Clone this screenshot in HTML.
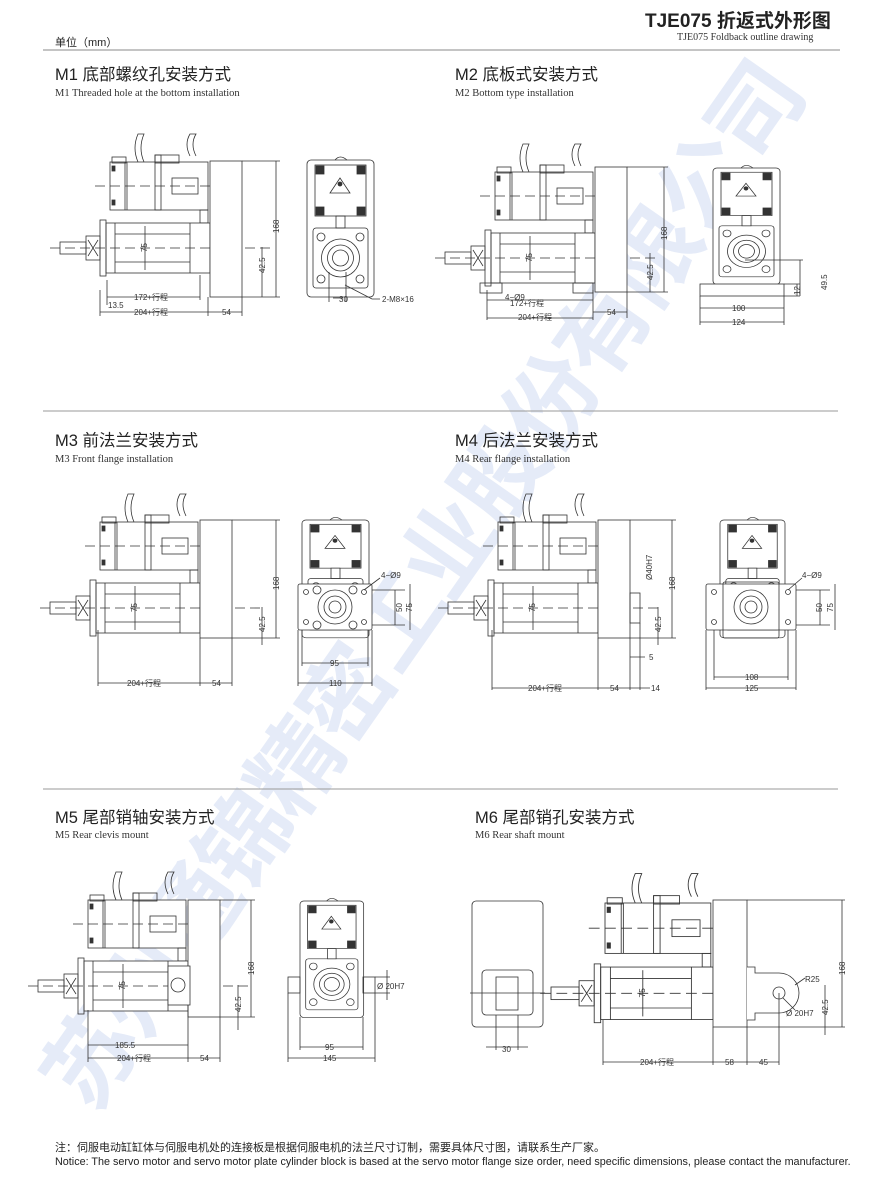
<!DOCTYPE html>
<html><head><meta charset="utf-8"><style>
body{margin:0;background:#fff}
svg{display:block}
.t{font-family:"Liberation Sans","Noto Sans CJK SC",sans-serif;fill:#222}
.s{font-family:"Liberation Serif","Noto Serif CJK SC",serif;fill:#333}
.d{font-family:"Liberation Sans","Noto Sans CJK SC",sans-serif;font-size:8px;fill:#333}
</style></head><body>
<svg width="886" height="1183" viewBox="0 0 886 1183" xmlns="http://www.w3.org/2000/svg">
<defs>
<g id="sv" fill="none" stroke="#333" stroke-width="0.8">
 <path d="M-72 0 Q-78 -14 -72 -28 L-66 -28 Q-72 -14 -66 0" />
 <path d="M-20 -6 Q-26 -18 -20 -28 L-14 -28 Q-20 -18 -14 -6" />
 <rect x="-100" y="0" width="98" height="48" fill="#fff"/>
 <rect x="-98" y="-5" width="14" height="6"/>
 <line x1="-85" y1="0" x2="-85" y2="48"/><line x1="-83" y1="0" x2="-83" y2="48"/>
 <rect x="-55" y="-7" width="6" height="55"/><rect x="-55" y="-7" width="24" height="8"/>
 <rect x="-38" y="16" width="26" height="16"/>
 <rect x="-98" y="4" width="3" height="5" fill="#333"/><rect x="-98" y="38" width="3" height="5" fill="#333"/>
 <rect x="-10" y="48" width="8" height="13"/>
 <line x1="-115" y1="24" x2="20" y2="24" stroke-dasharray="10 5"/>
 <rect x="-104" y="61" width="104" height="50" fill="#fff"/>
 <rect x="-110" y="58" width="6" height="56"/>
 <line x1="-95" y1="61" x2="-95" y2="111"/>
 <line x1="-95" y1="72" x2="-20" y2="72"/><line x1="-95" y1="100" x2="-20" y2="100"/>
 <line x1="-20" y1="61" x2="-20" y2="111"/>
 <rect x="-124" y="74" width="14" height="24"/>
 <path d="M-122 78 L-112 94 M-112 78 L-122 94"/>
 <rect x="-150" y="80" width="26" height="12"/>
 <line x1="-160" y1="86" x2="60" y2="86" stroke-dasharray="10 5"/>
 <line x1="-65" y1="64" x2="-65" y2="108"/>
 <text x="-63" y="90" class="d" stroke="none" transform="rotate(-90 -63 90)">75</text>
</g>
<g id="fv" fill="none" stroke="#333" stroke-width="0.8">
 <rect x="0" y="0" width="67" height="137" rx="4" fill="#fff"/>
 <rect x="8" y="5" width="51" height="51"/>
 <path d="M28 0 Q33 -6 40 0"/>
 <rect x="9" y="6" width="8" height="8" fill="#333"/><rect x="50" y="6" width="8" height="8" fill="#333"/>
 <rect x="9" y="47" width="8" height="8" fill="#333"/><rect x="50" y="47" width="8" height="8" fill="#333"/>
 <path d="M33 18 L43 33 L23 33 Z"/><circle cx="33" cy="24" r="2" fill="#333"/>
 <rect x="29" y="56" width="9" height="12"/>
 <rect x="6" y="68" width="55" height="60" rx="3"/>
 <circle cx="14" cy="77" r="4"/><circle cx="53" cy="77" r="4"/><circle cx="14" cy="119" r="4"/><circle cx="53" cy="119" r="4"/>
 <circle cx="33.5" cy="98" r="19"/><circle cx="33.5" cy="98" r="13"/><circle cx="33.5" cy="98" r="8"/>
</g>
</defs>

<!-- watermark -->
<text x="0" y="0" transform="translate(92 1115) rotate(-55)" font-family="'Noto Sans CJK SC',sans-serif" font-weight="bold" font-size="92" fill="#e5ebf8" textLength="1250" lengthAdjust="spacing">苏州通锦精密工业股份有限公司</text>

<!-- header -->
<text x="645" y="27" class="t" font-size="19" font-weight="bold">TJE075 折返式外形图</text>
<text x="677" y="40" class="s" font-size="10">TJE075  Foldback outline drawing</text>
<line x1="43" y1="50" x2="840" y2="50" stroke="#888" stroke-width="1"/>
<text x="55" y="46" class="t" font-size="11">单位（mm）</text>

<line x1="43" y1="411" x2="838" y2="411" stroke="#999"/>
<line x1="43" y1="789" x2="838" y2="789" stroke="#999"/>

<!-- titles -->
<text x="55" y="80" class="t" font-size="16.5">M1 底部螺纹孔安装方式</text>
<text x="55" y="96" class="s" font-size="10.5">M1 Threaded hole at the bottom installation</text>
<text x="455" y="80" class="t" font-size="16.5">M2 底板式安装方式</text>
<text x="455" y="96" class="s" font-size="10.5">M2 Bottom type installation</text>
<text x="55" y="446" class="t" font-size="16.5">M3 前法兰安装方式</text>
<text x="55" y="462" class="s" font-size="10.5">M3 Front flange installation</text>
<text x="455" y="446" class="t" font-size="16.5">M4 后法兰安装方式</text>
<text x="455" y="462" class="s" font-size="10.5">M4 Rear flange installation</text>
<text x="55" y="823" class="t" font-size="16.5">M5 尾部销轴安装方式</text>
<text x="55" y="838" class="s" font-size="10.5">M5 Rear clevis mount</text>
<text x="475" y="823" class="t" font-size="16.5">M6 尾部销孔安装方式</text>
<text x="475" y="838" class="s" font-size="10.5">M6 Rear shaft mount</text>

<g fill="none" stroke="#333" stroke-width="0.8">
<!-- M1 -->
<use href="#sv" x="210" y="162"/>
<rect x="210" y="161" width="32" height="136" fill="#fff"/>
<path d="M242 161 H280 M242 297 H280 M276 161 V297 M262 247 V297 M100 290 V316 M208 297 V316 M242 297 V316 M107 280 V305 M200 275 V300"/>
<path d="M107 297 H200 M100 312 H208 M208 312 H242"/>
<use href="#fv" x="307" y="160"/>
<path d="M329 272 V302 M346 272 V302 M333 298 H343 M345 285 L372 299 H380"/>
<!-- M2 -->
<use href="#sv" x="595" y="172"/>
<rect x="595" y="167" width="32" height="125" fill="#fff"/>
<rect x="480" y="283" width="22" height="10"/><rect x="573" y="283" width="20" height="10"/>
<path d="M627 167 H668 M627 292 H668 M664 167 V292 M650 253 V292 M487 290 V320 M593 290 V320 M627 292 V318 M487 300 H593 M487 318 H593 M593 312 H627"/>
<use href="#fv" x="713" y="168" transform="translate(713 168) scale(1 0.85) translate(-713 -168)"/>
<rect x="700" y="284" width="84" height="12" fill="#fff"/>
<path d="M700 296 V325 M784 296 V325 M700 308 H784 M700 322 H784 M784 284 H800 M784 296 H800 M797 284 V296 M745 260 H803 M800 260 V296"/>
<!-- M3 -->
<use href="#sv" x="200" y="522"/>
<rect x="200" y="520" width="32" height="118" fill="#fff"/>
<path d="M232 520 H280 M232 638 H280 M276 520 V638 M262 607 V645 M98 630 V686 M200 638 V686 M232 638 V686 M98 683 H200 M200 683 H232"/>
<use href="#fv" x="302" y="520" transform="translate(302 520) scale(1 0.86) translate(-302 -520)"/>
<rect x="298" y="584" width="74" height="46" rx="2" fill="#fff"/>
<circle cx="306" cy="592" r="2.5"/><circle cx="364" cy="592" r="2.5"/><circle cx="306" cy="622" r="2.5"/><circle cx="364" cy="622" r="2.5"/>
<circle cx="335" cy="607" r="17"/><circle cx="335" cy="607" r="11"/><circle cx="335" cy="607" r="6"/>
<circle cx="317" cy="590" r="4"/><circle cx="353" cy="590" r="4"/><circle cx="317" cy="625" r="4"/><circle cx="353" cy="625" r="4"/>
<path d="M302 630 V666 M368 630 V666 M298 630 V686 M372 630 V686 M302 663 H368 M298 683 H372 M372 590 H405 M372 625 H405 M395 590 V625 M410 584 V630 M364 590 L380 578"/>
<!-- M4 -->
<use href="#sv" x="598" y="522"/>
<rect x="598" y="520" width="32" height="118" fill="#fff"/>
<rect x="630" y="593" width="10" height="30"/>
<path d="M630 520 H676 M630 638 H676 M672 520 V638 M658 607 V645 M492 630 V690 M598 638 V690 M630 638 V690 M640 623 V690 M492 688 H598 M598 688 H630 M630 688 H650 M630 657 H645"/>
<use href="#fv" x="720" y="520" transform="translate(720 520) scale(0.97 0.86) translate(-720 -520)"/>
<rect x="706" y="584" width="90" height="46" rx="2" fill="#fff"/>
<circle cx="714" cy="592" r="2.5"/><circle cx="788" cy="592" r="2.5"/><circle cx="714" cy="622" r="2.5"/><circle cx="788" cy="622" r="2.5"/>
<rect x="723" y="582" width="56" height="56" rx="2"/>
<circle cx="751" cy="607" r="17"/><circle cx="751" cy="607" r="11"/><circle cx="751" cy="607" r="6"/>
<path d="M714 630 V680 M788 630 V680 M706 630 V690 M796 630 V690 M714 677 H788 M706 688 H796 M796 590 H830 M796 625 H830 M820 590 V625 M835 584 V630 M788 590 L802 578"/>
<!-- M5 -->
<use href="#sv" x="188" y="900"/>
<rect x="188" y="900" width="32" height="117" fill="#fff"/>
<rect x="168" y="966" width="22" height="39" fill="#fff"/><circle cx="178" cy="985" r="7"/>
<path d="M220 900 H255 M220 1017 H255 M251 900 V1017 M238 985 V1030 M88 1010 V1062 M188 1005 V1062 M220 1017 V1062 M88 1045 H188 M88 1058 H188 M188 1058 H220"/>
<use href="#fv" x="300" y="901" transform="translate(300 901) scale(0.95 0.85) translate(-300 -901)"/>
<rect x="288" y="977" width="12" height="16"/><rect x="363" y="977" width="12" height="16"/>
<path d="M300 1017 V1050 M363 1017 V1050 M288 993 V1062 M375 993 V1062 M300 1047 H363 M288 1058 H375 M375 977 H390 M375 993 H390 M387 970 V1000"/>
<!-- M6 -->
<use href="#sv" x="713" y="903" transform="translate(713 903) scale(1.08 1.05) translate(-713 -903)"/>
<rect x="713" y="900" width="34" height="127" fill="#fff"/>
<path d="M747 967 H755 V973 H779 A20 20 0 0 1 779 1013 H755 V1020 H747" fill="#fff"/>
<circle cx="779" cy="993" r="6"/>
<path d="M747 900 H845 M747 1027 H845 M842 900 V1027 M825 985 V1035 M603 1020 V1065 M713 1027 V1065 M747 1027 V1065 M779 993 V1065 M603 1062 H713 M713 1062 H747 M747 1062 H779 M795 985 L805 978 M783 998 L795 1010"/>
<rect x="472" y="901" width="71" height="126" rx="4"/>
<rect x="482" y="970" width="51" height="45" rx="4"/>
<rect x="496" y="977" width="22" height="33"/>
<path d="M496 1015 V1050 M518 1015 V1050 M486 1047 H528 M470 993 H545" />
</g>

<!-- dimension labels -->
<g class="d">
<text x="134" y="300">172+行程</text><text x="108" y="308">13.5</text><text x="134" y="315">204+行程</text><text x="222" y="315">54</text>
<text x="339" y="302">30</text><text x="382" y="302">2-M8×16</text>
<text transform="translate(279 233) rotate(-90)">168</text><text transform="translate(265 273) rotate(-90)">42.5</text>
<text x="505" y="300">4−Ø9</text><text x="510" y="306">172+行程</text><text x="518" y="320">204+行程</text><text x="607" y="315">54</text>
<text transform="translate(667 240) rotate(-90)">168</text><text transform="translate(653 280) rotate(-90)">42.5</text>
<text x="732" y="311">100</text><text x="732" y="325">124</text>
<text transform="translate(800 295) rotate(-90)">12</text><text transform="translate(827 290) rotate(-90)">49.5</text>
<text x="127" y="686">204+行程</text><text x="212" y="686">54</text>
<text transform="translate(279 590) rotate(-90)">168</text><text transform="translate(265 632) rotate(-90)">42.5</text>
<text x="330" y="666">95</text><text x="329" y="686">110</text><text x="381" y="578">4−Ø9</text>
<text transform="translate(402 612) rotate(-90)">50</text><text transform="translate(412 612) rotate(-90)">75</text>
<text x="528" y="691">204+行程</text><text x="610" y="691">54</text><text x="651" y="691">14</text><text x="649" y="660">5</text>
<text transform="translate(652 580) rotate(-90)">Ø40H7</text>
<text transform="translate(675 590) rotate(-90)">168</text><text transform="translate(661 632) rotate(-90)">42.5</text>
<text x="745" y="680">108</text><text x="745" y="691">125</text><text x="802" y="578">4−Ø9</text>
<text transform="translate(822 612) rotate(-90)">50</text><text transform="translate(833 612) rotate(-90)">75</text>
<text x="115" y="1048">185.5</text><text x="117" y="1061">204+行程</text><text x="200" y="1061">54</text>
<text transform="translate(254 975) rotate(-90)">168</text><text transform="translate(241 1012) rotate(-90)">42.5</text>
<text x="325" y="1050">95</text><text x="323" y="1061">145</text><text x="377" y="989">Ø 20H7</text>
<text x="502" y="1052">30</text><text x="640" y="1065">204+行程</text><text x="725" y="1065">58</text><text x="759" y="1065">45</text>
<text x="805" y="982">R25</text><text x="786" y="1016">Ø 20H7</text>
<text transform="translate(845 975) rotate(-90)">168</text><text transform="translate(828 1015) rotate(-90)">42.5</text>
</g>

<!-- footer -->
<text x="55" y="1151" class="t" font-size="11">注：伺服电动缸缸体与伺服电机处的连接板是根据伺服电机的法兰尺寸订制，需要具体尺寸图，请联系生产厂家。</text>
<text x="55" y="1165" class="t" font-size="10.8">Notice: The servo motor and servo motor plate cylinder block is based at the servo motor flange size order, need specific dimensions,  please contact the manufacturer.</text>
</svg>
</body></html>
